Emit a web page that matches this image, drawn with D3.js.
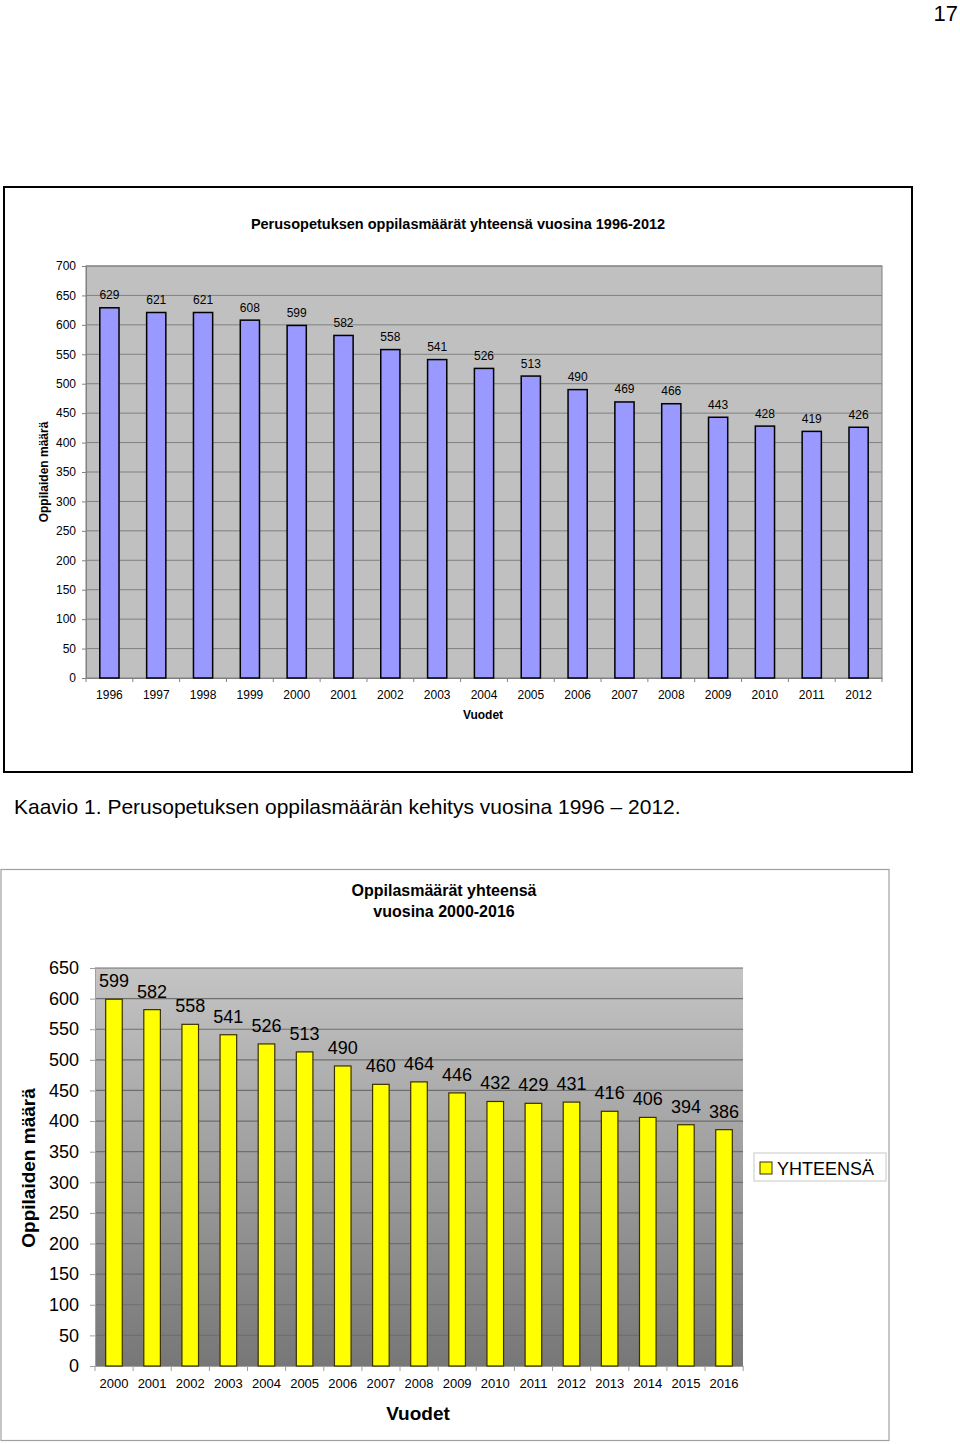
<!DOCTYPE html>
<html><head><meta charset="utf-8">
<script src="https://cdn.jsdelivr.net/npm/d3@7"></script>
<style>
body{margin:0;background:#fff;}
svg{display:block;font-family:Arial,"Liberation Sans",sans-serif;}
</style></head>
<body>
<svg id="c" width="960" height="1444"></svg>
<script>
// ---- data ----
const years1 = ["1996","1997","1998","1999","2000","2001","2002","2003","2004","2005","2006","2007","2008","2009","2010","2011","2012"];
const values1 = [629,621,621,608,599,582,558,541,526,513,490,469,466,443,428,419,426];
const yTicks1 = [0,50,100,150,200,250,300,350,400,450,500,550,600,650,700];

const years2 = ["2000","2001","2002","2003","2004","2005","2006","2007","2008","2009","2010","2011","2012","2013","2014","2015","2016"];
const values2 = [599,582,558,541,526,513,490,460,464,446,432,429,431,416,406,394,386];
const yTicks2 = [0,50,100,150,200,250,300,350,400,450,500,550,600,650];

const title1 = "Perusopetuksen oppilasmäärät yhteensä vuosina 1996-2012";
const title2a = "Oppilasmäärät yhteensä";
const title2b = "vuosina 2000-2016";
const caption = "Kaavio 1. Perusopetuksen oppilasmäärän kehitys vuosina 1996 – 2012.";

const svg = d3.select("#c");

// page number
svg.append("text").attr("x",958).attr("y",21).attr("text-anchor","end")
  .attr("font-size",22).attr("fill","#000").text("17");

// ================= Chart 1 =================
svg.append("rect").attr("x",4).attr("y",187).attr("width",908).attr("height",585)
  .attr("fill","#fff").attr("stroke","#000").attr("stroke-width",2);
svg.append("text").attr("x",458).attr("y",229).attr("text-anchor","middle")
  .attr("font-size",14.5).attr("font-weight","bold").text(title1);

const p1 = {l:86,t:266,r:882,b:678};
const x1 = d3.scaleBand().domain(years1).range([p1.l,p1.r]).paddingInner(0.59).paddingOuter(0.295);
const y1 = d3.scaleLinear().domain([0,700]).range([p1.b,p1.t]);
const g1 = svg.append("g");
g1.append("rect").attr("x",p1.l).attr("y",p1.t).attr("width",p1.r-p1.l).attr("height",p1.b-p1.t)
  .attr("fill","#c0c0c0").attr("stroke","#808080").attr("stroke-width",1);
g1.selectAll("line.grid").data(yTicks1.filter(d=>d>0)).join("line").attr("class","grid")
  .attr("x1",p1.l).attr("x2",p1.r).attr("y1",d=>y1(d)).attr("y2",d=>y1(d))
  .attr("stroke","#808080").attr("stroke-width",1);
// y axis
const ya1 = g1.append("g").attr("transform",`translate(${p1.l},0)`)
  .call(d3.axisLeft(y1).tickValues(yTicks1).tickSize(4).tickPadding(6));
ya1.select(".domain").attr("stroke","#808080");
ya1.selectAll(".tick line").attr("stroke","#808080");
ya1.selectAll("text").attr("font-size",12).attr("font-family","Arial,'Liberation Sans',sans-serif").attr("fill","#000");
// x axis
const xa1 = g1.append("g").attr("transform",`translate(0,${p1.b})`)
  .call(d3.axisBottom(x1).tickSize(0).tickPadding(12));
xa1.select(".domain").attr("stroke","#808080");
xa1.selectAll("text").attr("font-size",12).attr("font-family","Arial,'Liberation Sans',sans-serif").attr("fill","#000");
g1.selectAll("line.xt").data(d3.range(years1.length+1)).join("line").attr("class","xt")
  .attr("x1",i=>p1.l+i*x1.step()).attr("x2",i=>p1.l+i*x1.step())
  .attr("y1",p1.b).attr("y2",p1.b+4).attr("stroke","#808080");
// bars
g1.selectAll("rect.bar").data(values1).join("rect").attr("class","bar")
  .attr("x",(d,i)=>x1(years1[i])).attr("width",x1.bandwidth())
  .attr("y",d=>y1(d)).attr("height",d=>p1.b-y1(d))
  .attr("fill","#9999ff").attr("stroke","#000").attr("stroke-width",1.5);
g1.selectAll("text.lbl").data(values1).join("text").attr("class","lbl")
  .attr("x",(d,i)=>x1(years1[i])+x1.bandwidth()/2).attr("y",d=>y1(d)-8.5)
  .attr("text-anchor","middle").attr("font-size",12).text(d=>d);
// axis titles
svg.append("text").attr("x",483).attr("y",719).attr("text-anchor","middle")
  .attr("font-size",12).attr("font-weight","bold").text("Vuodet");
svg.append("text").attr("transform","translate(48,472) rotate(-90)").attr("text-anchor","middle")
  .attr("font-size",12).attr("font-weight","bold").text("Oppilaiden määrä");

// caption
svg.append("text").attr("x",14).attr("y",814).attr("font-size",21).text(caption);

// ================= Chart 2 =================
svg.append("rect").attr("x",1).attr("y",869.5).attr("width",888).attr("height",571)
  .attr("fill","#fff").attr("stroke","#a0a0a0").attr("stroke-width",1.2);
svg.append("text").attr("x",444).attr("y",896).attr("text-anchor","middle")
  .attr("font-size",16).attr("font-weight","bold").text(title2a);
svg.append("text").attr("x",444).attr("y",917).attr("text-anchor","middle")
  .attr("font-size",16).attr("font-weight","bold").text(title2b);

const p2 = {l:95,t:968,r:743,b:1366};
const x2 = d3.scaleBand().domain(years2).range([p2.l,p2.r]).paddingInner(0.565).paddingOuter(0.28);
const y2 = d3.scaleLinear().domain([0,650]).range([p2.b,p2.t]);
const defs = svg.append("defs");
const grad = defs.append("linearGradient").attr("id","bg2").attr("x1",0).attr("y1",0).attr("x2",0).attr("y2",1);
grad.append("stop").attr("offset","0%").attr("stop-color","#c4c4c4");
grad.append("stop").attr("offset","100%").attr("stop-color","#777777");
const g2 = svg.append("g");
g2.append("rect").attr("x",p2.l).attr("y",p2.t).attr("width",p2.r-p2.l).attr("height",p2.b-p2.t)
  .attr("fill","url(#bg2)");
g2.selectAll("line.grid").data(yTicks2.filter(d=>d>0)).join("line").attr("class","grid")
  .attr("x1",p2.l).attr("x2",p2.r).attr("y1",d=>y2(d)).attr("y2",d=>y2(d))
  .attr("stroke","#6f6f6f").attr("stroke-width",1.2);
const ya2 = g2.append("g").attr("transform",`translate(${p2.l},0)`)
  .call(d3.axisLeft(y2).tickValues(yTicks2).tickSize(5).tickPadding(11));
ya2.select(".domain").attr("stroke","#a0a0a0");
ya2.selectAll(".tick line").attr("stroke","#a0a0a0");
ya2.selectAll("text").attr("font-size",18).attr("font-family","Arial,'Liberation Sans',sans-serif").attr("fill","#000");
const xa2 = g2.append("g").attr("transform",`translate(0,${p2.b})`)
  .call(d3.axisBottom(x2).tickSize(0).tickPadding(13));
xa2.select(".domain").attr("stroke","#a0a0a0");
xa2.selectAll("text").attr("font-size",13).attr("font-family","Arial,'Liberation Sans',sans-serif").attr("fill","#000");
g2.selectAll("line.xt").data(d3.range(years2.length+1)).join("line").attr("class","xt")
  .attr("x1",i=>p2.l+i*x2.step()).attr("x2",i=>p2.l+i*x2.step())
  .attr("y1",p2.b).attr("y2",p2.b+5).attr("stroke","#a0a0a0");
g2.selectAll("rect.bar").data(values2).join("rect").attr("class","bar")
  .attr("x",(d,i)=>x2(years2[i])).attr("width",x2.bandwidth())
  .attr("y",d=>y2(d)).attr("height",d=>p2.b-y2(d))
  .attr("fill","#ffff00").attr("stroke","#3a3000").attr("stroke-width",1.2);
g2.selectAll("text.lbl").data(values2).join("text").attr("class","lbl")
  .attr("x",(d,i)=>x2(years2[i])+x2.bandwidth()/2).attr("y",d=>y2(d)-12)
  .attr("text-anchor","middle").attr("font-size",18).text(d=>d);
svg.append("text").attr("x",418).attr("y",1420).attr("text-anchor","middle")
  .attr("font-size",19).attr("font-weight","bold").text("Vuodet");
svg.append("text").attr("transform","translate(35,1168) rotate(-90)").attr("text-anchor","middle")
  .attr("font-size",19).attr("font-weight","bold").text("Oppilaiden määrä");
// legend
svg.append("rect").attr("x",754).attr("y",1153).attr("width",132).attr("height",28)
  .attr("fill","#fff").attr("stroke","#c8c8c8");
svg.append("rect").attr("x",760).attr("y",1162).attr("width",12).attr("height",12)
  .attr("fill","#ffff00").attr("stroke","#3a3000");
svg.append("text").attr("x",777).attr("y",1175).attr("font-size",18).text("YHTEENSÄ");
</script>
</body></html>
